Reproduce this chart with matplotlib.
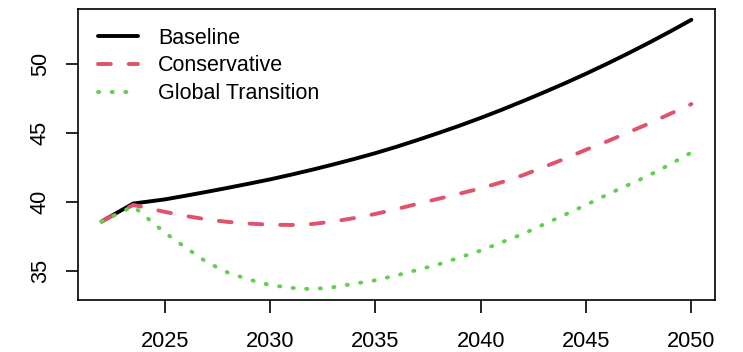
import matplotlib
matplotlib.use("Agg")
import matplotlib.pyplot as plt

plt.rcParams['font.family'] = ['Liberation Sans', 'DejaVu Sans']

years = [2022, 2023.5] + list(range(2025, 2051))

baseline = [38.6, 39.9,
            40.20, 40.47, 40.75, 41.04, 41.34, 41.65, 41.99, 42.35, 42.73, 43.13,
            43.55, 44.01, 44.50, 45.01, 45.54, 46.10, 46.69, 47.31, 47.95, 48.61,
            49.30, 50.02, 50.77, 51.55, 52.36, 53.20]

conservative = [38.6, 39.8,
                39.30, 39.00, 38.75, 38.57, 38.45, 38.37, 38.35, 38.42, 38.60, 38.85,
                39.15, 39.50, 39.88, 40.25, 40.62, 41.00, 41.45, 41.95, 42.55, 43.15,
                43.80, 44.40, 45.05, 45.70, 46.40, 47.10]

global_transition = [38.6, 39.7,
                     37.80, 36.70, 35.65, 34.90, 34.40, 34.00, 33.80, 33.70, 33.85, 34.10,
                     34.35, 34.70, 35.10, 35.50, 36.00, 36.50, 37.10, 37.70, 38.40, 39.10,
                     39.80, 40.55, 41.25, 41.95, 42.75, 43.60]

labels = ["Baseline", "Conservative", "Global Transition"]
colors = ["#000000", "#DF536B", "#61D04F"]

fig = plt.figure(figsize=(7.43, 3.52), dpi=100)
ax = fig.add_axes([78 / 743, 52 / 352, 637 / 743, 291 / 352])

lw = 2.8
ax.plot(years, baseline, color=colors[0], lw=lw, solid_capstyle='round',
        solid_joinstyle='round', label=labels[0])
ax.plot(years, conservative, color=colors[1], lw=lw, dash_capstyle='round',
        dash_joinstyle='round', dashes=(3.3, 4.6), label=labels[1])
ax.plot(years, global_transition, color=colors[2], lw=lw, dash_capstyle='round',
        dash_joinstyle='round', dashes=(0.3, 3.2), label=labels[2])

# R-style 4% axis padding
xmin, xmax = min(years), max(years)
allv = baseline + conservative + global_transition
ymin, ymax = min(allv), max(allv)
px = 0.04 * (xmax - xmin)
py = 0.04 * (ymax - ymin)
ax.set_xlim(xmin - px, xmax + px)
ax.set_ylim(ymin - py, ymax + py)

ax.set_xticks([2025, 2030, 2035, 2040, 2045, 2050])
ax.set_yticks([35, 40, 45, 50])
ax.tick_params(direction='out', length=9, width=1.2, labelsize=15.7)
ax.tick_params(axis='x', pad=13.5)
ax.tick_params(axis='y', pad=10.5)
for lab in ax.get_yticklabels():
    lab.set_rotation(90)
    lab.set_va('center')
for s in ax.spines.values():
    s.set_linewidth(1.2)

ax.legend(loc='upper left', frameon=False, fontsize=15.5,
          handlelength=1.86, handletextpad=0.93, labelspacing=0.31,
          borderaxespad=0.0, bbox_to_anchor=(0.018, 0.965))

fig.savefig("out.png", dpi=100)
